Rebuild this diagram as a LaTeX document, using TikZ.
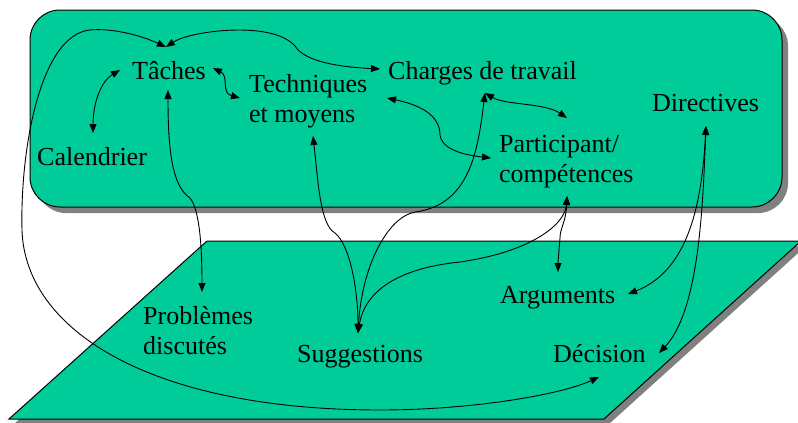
\documentclass[tikz,border=0pt]{standalone}
\usepackage{fontspec}
\setmainfont{Liberation Serif}
\usetikzlibrary{arrows.meta}
\definecolor{planefill}{HTML}{00CC99}
\definecolor{planeshadow}{HTML}{808080}
\begin{document}
\begin{tikzpicture}[x=1pt,y=-1pt,
  lbl/.style={font=\fontsize{26}{30}\selectfont, inner sep=0pt, anchor=base west, align=left},
  link/.style={line width=0.9pt, {Triangle[length=9pt,width=7pt]}-{Triangle[length=9pt,width=7pt]}},
  plane/.style={fill=planefill, draw=black, line width=1pt},
  shade/.style={fill=planeshadow}]
\useasboundingbox (0,0) rectangle (798,423);

% lower plane (parallelogram) with its shadow
\fill[shade] (212,246) -- (806,246) -- (609,424) -- (14,424) -- cycle;
\draw[plane] (207,241) -- (801,241) -- (604,419) -- (9,419) -- cycle;

% upper plane (rounded panel) with its shadow
\fill[shade, rounded corners=30pt] (36,16) rectangle (788,213);
\draw[plane, rounded corners=30pt] (30,10) rectangle (782,207);

% labels (two-line labels are placed by the baseline of their last line)
\node[lbl] (taches)      at (132,79)  {Tâches};
\node[lbl] (techniques)  at (249,122) {Techniques\\et moyens};
\node[lbl] (calendrier)  at (37,165)  {Calendrier};
\node[lbl] (charges)     at (388,79)  {Charges de travail};
\node[lbl] (directives)  at (652,111) {Directives};
\node[lbl] (participant) at (499,182) {Participant/\\compétences};
\node[lbl] (problemes)   at (143,354) {Problèmes\\discutés};
\node[lbl] (suggestions) at (297,362) {Suggestions};
\node[lbl] (arguments)   at (500,303) {Arguments};
\node[lbl] (decision)    at (553,362) {Décision};

% connector end points
\coordinate (taN) at (166,47);
\coordinate (taW) at (120,70);
\coordinate (taE) at (213,68);
\coordinate (taS) at (168,90);
\coordinate (caN) at (93,133);
\coordinate (teW) at (240,98);
\coordinate (teE) at (387,98);
\coordinate (teS) at (313,136);
\coordinate (chW) at (380,69);
\coordinate (chS) at (485,93);
\coordinate (paN) at (567,118);
\coordinate (paW) at (491,158);
\coordinate (paS) at (567,196);
\coordinate (diS) at (706,126);
\coordinate (prN) at (202,292);
\coordinate (suN) at (358,333);
\coordinate (arN) at (558,272);
\coordinate (arE) at (628,294);
\coordinate (deE) at (659,353);
\coordinate (deS) at (599,377);

% connectors
\draw[link] (taW) .. controls (100,82) and (93,105) .. (caN);
\draw[link] (taE) .. controls (229,76) and (221,93) .. (teW);
\draw[link] (taN) .. controls (190,31) and (272,20) .. (295,46)
                  .. controls (305,62) and (340,67) .. (chW);
\draw[link] (taN) .. controls (140,35) and (112,28) .. (90,30)
                  .. controls (40,35) and (20,150) .. (22,230)
                  .. controls (25,330) and (150,410) .. (380,410)
                  .. controls (470,410) and (560,395) .. (deS);
\draw[link] (taS) .. controls (168,150) and (172,186) .. (190,198)
                  .. controls (200,210) and (202,250) .. (prN);
\draw[link] (teS) .. controls (318,180) and (320,225) .. (335,233)
                  .. controls (350,245) and (358,290) .. (suN);
\draw[link] (chS) .. controls (478,150) and (470,205) .. (415,212)
                  .. controls (388,217) and (362,265) .. (suN);
\draw[link] (chS) .. controls (505,105) and (545,103) .. (paN);
\draw[link] (teE) .. controls (420,105) and (440,115) .. (440,135)
                  .. controls (442,150) and (465,155) .. (paW);
\draw[link] (paS) .. controls (565,225) and (530,252) .. (460,262)
                  .. controls (400,268) and (365,290) .. (suN);
\draw[link] (paS) .. controls (566,222) and (560,228) .. (560,238)
                  .. controls (559,250) and (558,262) .. (arN);
\draw[link] (diS) .. controls (702,200) and (690,270) .. (arE);
\draw[link] (diS) .. controls (703,200) and (700,310) .. (deE);
\end{tikzpicture}
\end{document}
